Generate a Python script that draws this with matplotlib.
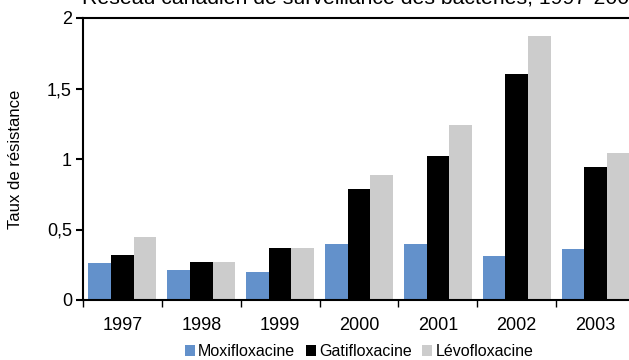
import matplotlib
matplotlib.use('Agg')
import matplotlib.pyplot as plt
import numpy as np

years = ['1997', '1998', '1999', '2000', '2001', '2002', '2003']
moxifloxacine = [0.26, 0.21, 0.20, 0.40, 0.40, 0.31, 0.36]
gatifloxacine = [0.32, 0.27, 0.37, 0.79, 1.02, 1.60, 0.94]
levofloxacine = [0.45, 0.27, 0.37, 0.89, 1.24, 1.87, 1.04]
yticks = [0, 0.5, 1, 1.5, 2]
ytick_labels = ['0', '0,5', '1', '1,5', '2']

plt.rcParams['font.family'] = ['Liberation Sans', 'DejaVu Sans']

fig = plt.figure(figsize=(6.29, 3.6), dpi=100)
# axes run a bit past the right edge of the figure
ax = fig.add_axes([83 / 629, 60 / 360, 552 / 629, 282 / 360])

x = np.arange(len(years))
w = 0.288
ax.bar(x - w, moxifloxacine, w, color='#6391cb', label='Moxifloxacine')
ax.bar(x, gatifloxacine, w, color='black', label='Gatifloxacine')
ax.bar(x + w, levofloxacine, w, color='#cccccc', label='Lévofloxacine')

ax.set_xlim(-0.5, len(years) - 0.5)
ax.set_ylim(0, 2)
ax.set_yticks(yticks)
ax.set_yticklabels(ytick_labels, fontsize=13)
ax.set_xticks(x)
ax.set_xticklabels(years, fontsize=13)
ax.set_xticks(np.arange(len(years) + 1) - 0.5, minor=True)
ax.tick_params(axis='x', which='major', length=0, pad=12)
ax.tick_params(axis='x', which='minor', length=5, width=1)
ax.tick_params(axis='y', length=5, width=1.5, pad=3)

for s in ['left', 'bottom', 'top', 'right']:
    ax.spines[s].set_linewidth(1.5)

ax.set_ylabel('Taux de résistance', fontsize=12, labelpad=17)

fig.text(82 / 629, 357 / 360, 'Réseau canadien de surveillance des bactéries, 1997-2003',
         fontsize=15.3, va='baseline', ha='left')

ax.legend(loc='lower center', bbox_to_anchor=(0.5, -60 / 282),
          ncol=3, frameon=False, fontsize=11.5, handlelength=0.63, handleheight=0.63,
          handletextpad=0.2, columnspacing=0.67, borderaxespad=0, borderpad=0.05)

fig.savefig('out.png', dpi=100)
